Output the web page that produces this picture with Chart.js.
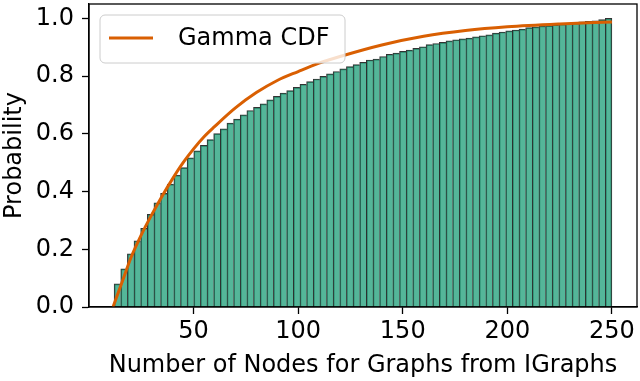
<!DOCTYPE html>
<html>
<head>
<meta charset="utf-8">
<script src="https://cdn.jsdelivr.net/npm/chart.js@4/dist/chart.umd.min.js"></script>
<style>
  html, body { margin: 0; padding: 0; background: #fff; }
  #wrap { width: 640px; height: 381px; position: relative; }
</style>
</head>
<body>
<div id="wrap"><canvas id="c"></canvas></div>
<script>
// Histogram bins (number of nodes)
const binStart = 12;
const binEnd = 250;
const binCount = 75;
// Cumulative probability per bin
const cumulativeProb = [
  0.080, 0.132, 0.184, 0.229, 0.273, 0.321, 0.361, 0.394, 0.426, 0.457,
  0.483, 0.517, 0.541, 0.560, 0.580, 0.601, 0.617, 0.637, 0.651, 0.666,
  0.681, 0.692, 0.704, 0.718, 0.730, 0.741, 0.750, 0.761, 0.772, 0.781,
  0.790, 0.799, 0.808, 0.816, 0.825, 0.833, 0.840, 0.848, 0.856, 0.859,
  0.868, 0.876, 0.880, 0.886, 0.890, 0.896, 0.902, 0.909, 0.913, 0.917,
  0.922, 0.926, 0.929, 0.932, 0.936, 0.940, 0.943, 0.949, 0.953, 0.957,
  0.960, 0.963, 0.968, 0.971, 0.974, 0.975, 0.978, 0.980, 0.982, 0.984,
  0.988, 0.990, 0.992, 0.996, 1.000
];
// Gamma CDF curve
const gammaX = [11.5, 14, 16, 20, 25, 30, 35, 40, 45, 50, 55, 60, 70, 80, 90, 100, 110, 120, 140, 160, 180, 200, 225, 250];
const gammaY = [0.0, 0.05, 0.09, 0.17, 0.25, 0.32, 0.385, 0.445, 0.50, 0.548, 0.59, 0.625, 0.69, 0.743, 0.785, 0.816, 0.845, 0.868, 0.908, 0.938, 0.958, 0.971, 0.981, 0.988];
// Tick labels
const xTicks = [50, 100, 150, 200, 250];
const yTicks = [0.0, 0.2, 0.4, 0.6, 0.8, 1.0];

const binWidth = (binEnd - binStart) / binCount;
const histData = cumulativeProb.map((v, i) => ({ x: binStart + binWidth * (i + 0.5), y: v }));
const gammaData = gammaX.map((x, i) => ({ x: x, y: gammaY[i] }));

const FONT = 'DejaVu Sans';
const FS = 24;

const frameAndLegend = {
  id: 'frameAndLegend',
  afterDatasetsDraw(chart) {
    const { ctx, chartArea: a } = chart;
    ctx.save();
    ctx.strokeStyle = '#000';
    ctx.lineWidth = 1.3;
    ctx.strokeRect(a.left, a.top, a.right - a.left, a.bottom - a.top);
    // legend
    const lx = a.left + 11, ly = a.top + 11, lw = 245, lh = 48, r = 5;
    ctx.beginPath();
    ctx.moveTo(lx + r, ly);
    ctx.arcTo(lx + lw, ly, lx + lw, ly + lh, r);
    ctx.arcTo(lx + lw, ly + lh, lx, ly + lh, r);
    ctx.arcTo(lx, ly + lh, lx, ly, r);
    ctx.arcTo(lx, ly, lx + lw, ly, r);
    ctx.closePath();
    ctx.fillStyle = 'rgba(255,255,255,0.8)';
    ctx.fill();
    ctx.strokeStyle = '#cccccc';
    ctx.lineWidth = 1;
    ctx.stroke();
    const ds = chart.data.datasets[0];
    ctx.strokeStyle = ds.borderColor;
    ctx.lineWidth = 3;
    ctx.beginPath();
    ctx.moveTo(lx + 9, ly + 23);
    ctx.lineTo(lx + 53, ly + 23);
    ctx.stroke();
    ctx.fillStyle = '#000';
    ctx.font = FS + 'px "' + FONT + '"';
    ctx.textBaseline = 'middle';
    ctx.fillText(ds.label, lx + 78, ly + 24);
    ctx.restore();
  }
};

new Chart(document.getElementById('c'), {
  type: 'bar',
  data: {
    datasets: [
      {
        type: 'line',
        label: 'Gamma CDF',
        data: gammaData,
        borderColor: '#d95f02',
        borderWidth: 3,
        pointRadius: 0,
        cubicInterpolationMode: 'monotone',
        fill: false,
        order: 0
      },
      {
        type: 'bar',
        label: 'Histogram',
        data: histData,
        backgroundColor: 'rgba(27,158,119,0.75)',
        borderColor: 'rgba(0,0,0,0.8)',
        borderWidth: (ctx) => ({ top: 1, left: 1, right: ctx.dataIndex === binCount - 1 ? 1 : 0, bottom: 0 }),
        borderSkipped: 'start',
        barPercentage: 1,
        categoryPercentage: 1,
        order: 1
      }
    ]
  },
  options: {
    responsive: true,
    maintainAspectRatio: false,
    animation: false,
    layout: { padding: { top: 4, right: 3, left: 0, bottom: 0 } },
    plugins: { legend: { display: false }, tooltip: { enabled: false } },
    scales: {
      x: {
        type: 'linear',
        offset: false,
        min: 0,
        max: 262,
        afterBuildTicks: (s) => { s.ticks = xTicks.map(v => ({ value: v })); },
        afterFit: (s) => { s.height = 74; s.paddingLeft = 0; s.paddingRight = 0; },
        grid: { display: true, offset: false, drawOnChartArea: false, drawTicks: true, tickLength: 7, color: '#000', tickWidth: 1.3 },
        border: { display: true, color: '#000', width: 1.3 },
        ticks: { color: '#000', font: { family: FONT, size: FS }, padding: 3, maxRotation: 0, autoSkip: false },
        title: { display: true, text: 'Number of Nodes for Graphs from IGraphs', color: '#000', font: { family: FONT, size: FS }, padding: { top: 0, bottom: 1 } }
      },
      y: {
        min: 0,
        max: 1.05,
        afterBuildTicks: (s) => { s.ticks = yTicks.map(v => ({ value: v })); },
        afterFit: (s) => { s.width = 89; s.paddingTop = 0; s.paddingBottom = 0; },
        grid: { display: true, drawOnChartArea: false, drawTicks: true, tickLength: 7, color: '#000', tickWidth: 1.3 },
        border: { display: true, color: '#000', width: 1.3 },
        ticks: { color: '#000', font: { family: FONT, size: FS }, padding: 8, callback: (v) => Number(v).toFixed(1) },
        title: { display: true, text: 'Probability', color: '#000', font: { family: FONT, size: FS }, padding: { top: 0, bottom: 0 } }
      }
    }
  },
  plugins: [frameAndLegend]
});
</script>
</body>
</html>
